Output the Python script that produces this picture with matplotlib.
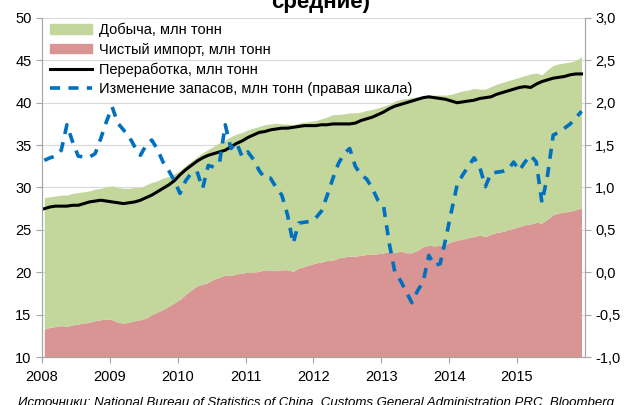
import numpy as np
import matplotlib
matplotlib.use("Agg")
import matplotlib.pyplot as plt
from matplotlib.patches import Patch
from matplotlib.lines import Line2D
from matplotlib.ticker import FuncFormatter

plt.rcParams['font.family'] = ['Liberation Sans', 'DejaVu Sans']

# monthly data, Jan 2008 .. Dec 2015
net_import = [13.3, 13.5, 13.6, 13.7, 13.6, 13.8, 13.9, 14.0, 14.1, 14.3, 14.4, 14.5,
              14.4, 14.1, 14.0, 14.1, 14.3, 14.4, 14.6, 15.0, 15.3, 15.6, 16.0, 16.4,
              16.8, 17.4, 17.9, 18.4, 18.6, 18.8, 19.2, 19.4, 19.7, 19.6, 19.8, 19.9,
              20.0, 20.0, 20.1, 20.3, 20.2, 20.2, 20.3, 20.3, 20.1, 20.5, 20.7, 20.9,
              21.1, 21.2, 21.4, 21.4, 21.7, 21.8, 21.9, 21.9, 22.0, 22.1, 22.1, 22.2,
              22.3, 22.4, 22.3, 22.5, 22.3, 22.3, 22.6, 23.0, 23.2, 23.1, 23.2, 23.3,
              23.6, 23.8, 23.9, 24.1, 24.2, 24.4, 24.2, 24.5, 24.7, 24.8, 25.0, 25.2,
              25.4, 25.6, 25.7, 25.9, 25.8, 26.3, 26.8, 27.0, 27.1, 27.2, 27.4, 27.6]

# top of the stacked area (net import + production)
supply_total = [28.8, 28.9, 29.0, 29.1, 29.1, 29.3, 29.4, 29.5, 29.6, 29.8, 29.9, 30.1,
                30.2, 30.0, 29.9, 29.9, 30.0, 30.0, 30.3, 30.6, 30.8, 31.1, 31.3, 31.6,
                32.0, 32.6, 33.1, 33.6, 34.1, 34.5, 34.9, 35.3, 35.6, 36.0, 36.3, 36.5,
                36.8, 37.0, 37.2, 37.4, 37.5, 37.6, 37.5, 37.5, 37.4, 37.6, 37.7, 37.8,
                37.9, 38.1, 38.3, 38.6, 38.6, 38.7, 38.8, 38.8, 38.9, 39.1, 39.2, 39.4,
                39.6, 39.8, 40.2, 40.4, 40.5, 40.6, 40.7, 40.8, 40.8, 40.9, 40.9, 40.9,
                41.0, 41.2, 41.4, 41.5, 41.7, 41.6, 41.6, 41.9, 42.2, 42.4, 42.6, 42.8,
                43.0, 43.2, 43.4, 43.5, 43.3, 43.9, 44.4, 44.6, 44.7, 44.8, 45.0, 45.4]

processing = [27.5, 27.7, 27.8, 27.8, 27.8, 27.9, 27.9, 28.1, 28.3, 28.4, 28.5, 28.4,
              28.3, 28.2, 28.1, 28.2, 28.3, 28.5, 28.8, 29.1, 29.5, 29.9, 30.3, 30.8,
              31.5, 32.1, 32.6, 33.1, 33.5, 33.8, 34.0, 34.2, 34.4, 34.8, 35.2, 35.5,
              35.9, 36.2, 36.5, 36.6, 36.8, 36.9, 37.0, 37.0, 37.1, 37.2, 37.3, 37.3,
              37.3, 37.4, 37.4, 37.5, 37.5, 37.5, 37.5, 37.6, 37.9, 38.1, 38.3, 38.6,
              38.9, 39.3, 39.6, 39.8, 40.0, 40.2, 40.4, 40.6, 40.7, 40.6, 40.5, 40.4,
              40.2, 40.0, 40.1, 40.2, 40.3, 40.5, 40.6, 40.7, 41.0, 41.2, 41.4, 41.6,
              41.8, 41.9, 41.8, 42.2, 42.5, 42.7, 42.9, 43.0, 43.1, 43.3, 43.4, 43.4]

stock_change = [1.32, 1.35, 1.37, 1.44, 1.74, 1.54, 1.37, 1.36, 1.36, 1.40, 1.58, 1.78,
                1.95, 1.76, 1.68, 1.60, 1.48, 1.38, 1.50, 1.56, 1.45, 1.30, 1.20, 1.08,
                0.93, 1.08, 1.17, 1.19, 0.99, 1.26, 1.24, 1.30, 1.74, 1.46, 1.53, 1.36,
                1.42, 1.33, 1.20, 1.11, 1.11, 1.00, 0.91, 0.68, 0.34, 0.58, 0.59, 0.60,
                0.64, 0.72, 0.90, 1.10, 1.28, 1.40, 1.46, 1.25, 1.15, 1.10, 0.99, 0.85,
                0.78, 0.34, 0.00, -0.10, -0.23, -0.36, -0.22, -0.11, 0.20, 0.08, 0.10, 0.40,
                0.72, 1.03, 1.15, 1.25, 1.35, 1.24, 1.01, 1.17, 1.18, 1.19, 1.21, 1.30,
                1.20, 1.30, 1.38, 1.30, 0.82, 1.15, 1.62, 1.65, 1.70, 1.75, 1.82, 1.90]

years = [2008, 2009, 2010, 2011, 2012, 2013, 2014, 2015]
x = 2008 + (np.arange(len(net_import)) + 0.4) / 12

green = '#c3d69b'
pink = '#d99594'
blue = '#0070c0'
gray = '#a6a6a6'

fig = plt.figure(figsize=(6.32, 4.05), dpi=100)
ax = fig.add_axes([0.0665, 0.1185, 0.859, 0.8371])
ax2 = ax.twinx()

ax.fill_between(x, 10, net_import, color=pink, linewidth=0)
ax.fill_between(x, net_import, supply_total, color=green, linewidth=0)
ax.plot(x, processing, color='black', lw=2.2)
ax2.plot(x, stock_change, color=blue, lw=2.6, dashes=(2.8, 2.3))

ax.set_xlim(2008, 2016)
ax.set_ylim(10, 50)
ax2.set_ylim(-1.0, 3.0)
ax.set_xticks(years)
ax.set_xticklabels([str(y) for y in years])
ax.set_yticks(np.arange(10, 51, 5))
ax2.set_yticks(np.arange(-1.0, 3.01, 0.5))
ax2.yaxis.set_major_formatter(FuncFormatter(lambda v, p: ('%.1f' % v).replace('.', ',')))

ax.set_axisbelow(True)
ax.grid(axis='y', color='#d9d9d9', lw=0.8)

for a in (ax, ax2):
    a.spines['top'].set_visible(False)
    for s in ('left', 'right', 'bottom'):
        a.spines[s].set_color(gray)
    a.tick_params(colors=gray, labelcolor='black', labelsize=10.5, length=4, width=0.8)
ax.tick_params(axis='x', pad=5)

handles = [Patch(color=green), Patch(color=pink),
           Line2D([], [], color='black', lw=2.2),
           Line2D([], [], color=blue, lw=2.6, dashes=(2.8, 2.3))]
labels = ['Добыча, млн тонн', 'Чистый импорт, млн тонн', 'Переработка, млн тонн',
          'Изменение запасов, млн тонн (правая шкала)']
ax2.legend(handles, labels, loc='upper left', bbox_to_anchor=(-0.002, 1.012), frameon=False,
           fontsize=10.5, handlelength=2.9, handleheight=0.6, handletextpad=0.45,
           labelspacing=0.38, borderaxespad=0.2)

fig.text(0.508, 1 - 8 / 405, 'средние)', ha='center', va='baseline',
         fontsize=16, fontweight='bold')
fig.text(0.028, 1 - 406 / 405, 'Источники: National Bureau of Statistics of China, '
         'Customs General Administration PRC, Bloomberg', ha='left', va='baseline',
         fontsize=9.5, style='italic')

fig.savefig('out.png', dpi=100)
